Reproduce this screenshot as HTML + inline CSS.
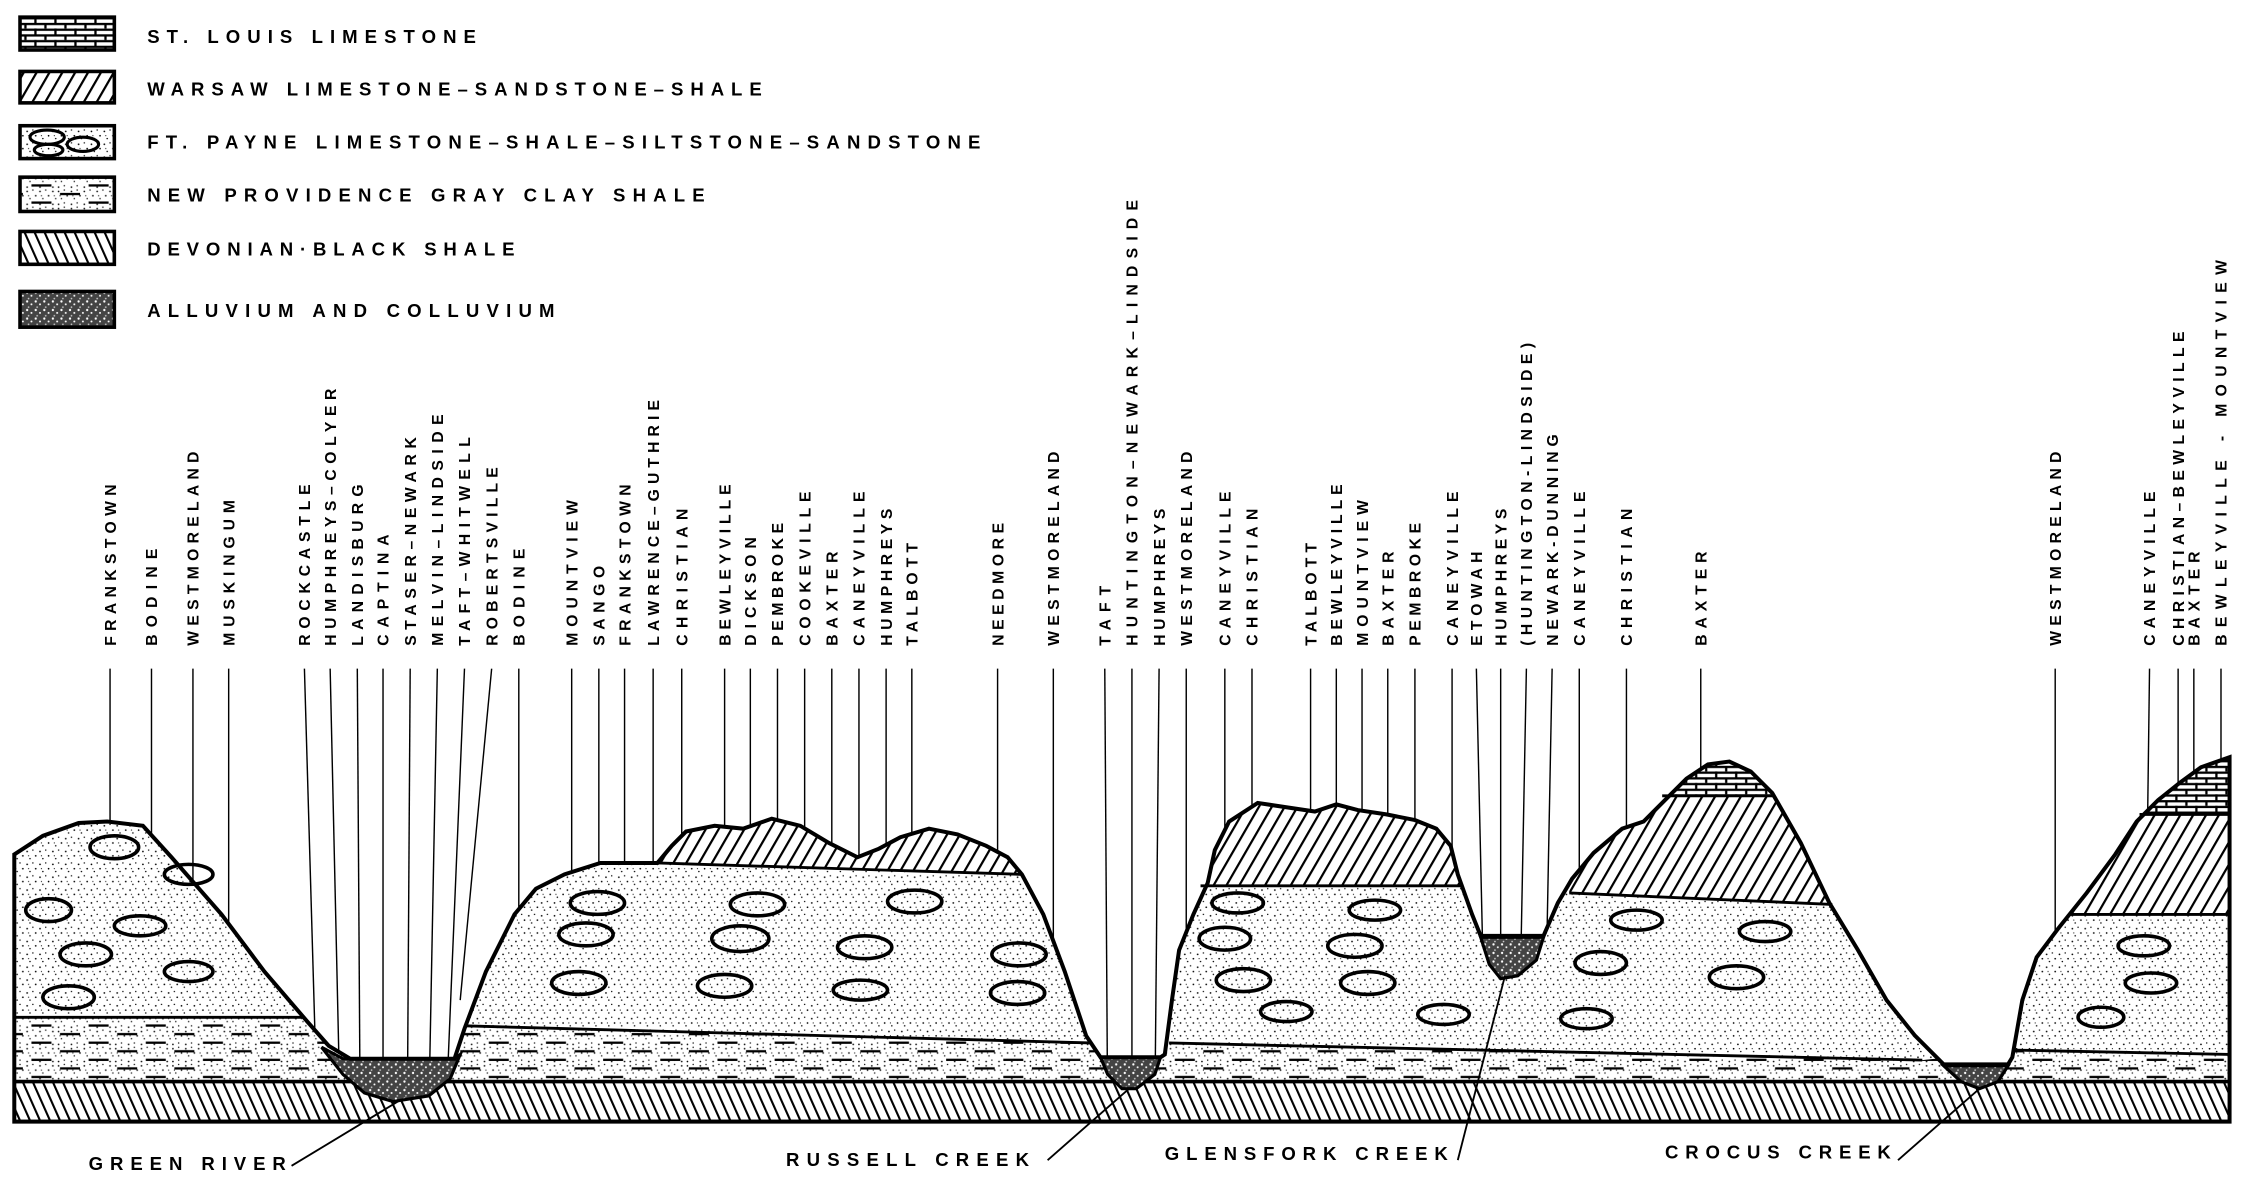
<!DOCTYPE html>
<html><head><meta charset="utf-8"><style>
html,body{margin:0;padding:0;background:#fff;}
svg{display:block;}
text{font-family:"Liberation Sans",sans-serif;font-weight:bold;fill:#000;}
</style></head><body>
<svg width="2241" height="1183" viewBox="0 0 1568 828" preserveAspectRatio="none" xmlns="http://www.w3.org/2000/svg">
<defs>
<pattern id="stip" width="9" height="9" patternUnits="userSpaceOnUse">
<rect width="9" height="9" fill="#fff"/>
<circle cx="1" cy="2" r="0.6" fill="#000"/><circle cx="5" cy="1" r="0.5" fill="#000"/>
<circle cx="7" cy="5" r="0.6" fill="#000"/><circle cx="3" cy="7" r="0.5" fill="#000"/>
<circle cx="2" cy="5" r="0.4" fill="#000"/>
</pattern>
<pattern id="shale" width="40" height="12" patternUnits="userSpaceOnUse">
<rect width="40" height="12" fill="url(#stip)"/>
<rect x="2" y="3" width="14" height="1.6" fill="#000"/><rect x="22" y="9" width="14" height="1.6" fill="#000"/>
</pattern>
<pattern id="dev" width="7" height="28" patternUnits="userSpaceOnUse" patternTransform="skewX(24)">
<rect width="7" height="28" fill="#fff"/><rect x="0" y="0" width="1.6" height="28" fill="#000"/>
</pattern>
<pattern id="war" width="9" height="60" patternUnits="userSpaceOnUse" patternTransform="skewX(-30)">
<rect width="9" height="60" fill="#fff"/><rect x="0" y="0" width="1.8" height="60" fill="#000"/>
</pattern>
<pattern id="brick" width="14" height="8" patternUnits="userSpaceOnUse">
<rect width="14" height="8" fill="#fff"/>
<rect x="0" y="0" width="14" height="1.6" fill="#000"/>
<rect x="0" y="4" width="14" height="1.6" fill="#000"/>
<rect x="3" y="0" width="1.6" height="4" fill="#000"/>
<rect x="10" y="4" width="1.6" height="4" fill="#000"/>
</pattern>
<pattern id="allu" width="6" height="6" patternUnits="userSpaceOnUse">
<rect width="6" height="6" fill="#444"/>
<circle cx="1" cy="1" r="0.8" fill="#fff"/><circle cx="4" cy="3" r="0.7" fill="#fff"/><circle cx="2" cy="5" r="0.6" fill="#ccc"/>
</pattern>
<clipPath id="terr"><path id="tp" d="M10,598 L30,585 L55,576 L75,575 L100,578 L120,600 L155,640 L185,680 L215,715 L230,732 L245,741 L318,741 L325,720 L340,680 L360,640 L375,622 L395,612 L420,604 L460,604 L470,592 L480,582 L500,578 L520,580 L540,573 L560,578 L580,590 L600,600 L615,594 L630,586 L650,580 L670,584 L690,592 L705,600 L715,612 L730,640 L745,680 L760,725 L770,740 L812,740 L815,738 L820,700 L825,665 L835,640 L845,618 L850,595 L860,575 L880,562 L900,565 L920,568 L935,563 L950,567 L970,570 L990,574 L1005,580 L1015,592 L1020,612 L1030,640 L1036,655 L1080,655 L1090,632 L1100,615 L1115,597 L1135,580 L1150,575 L1165,560 L1180,545 L1195,535 L1210,533 L1225,540 L1240,555 L1260,590 L1280,632 L1300,665 L1320,700 L1340,725 L1360,745 L1405,745 L1408,740 L1415,700 L1425,670 L1440,650 L1460,625 L1480,598 L1495,575 L1510,560 L1525,548 L1540,537 L1560,530 L1560,785 L10,785 Z"/></clipPath>
</defs>

<!-- legend -->
<g stroke="#000" stroke-width="2.5">
<rect x="14" y="12" width="66" height="23" fill="url(#brick)"/>
<rect x="14" y="50" width="66" height="22" fill="url(#war)"/>
<rect x="14" y="88" width="66" height="23" fill="url(#stip)"/>
<rect x="14" y="124" width="66" height="24" fill="url(#shale)"/>
<rect x="14" y="162" width="66" height="23" fill="url(#dev)"/>
<rect x="14" y="204" width="66" height="25" fill="url(#allu)"/>
</g>
<g fill="none" stroke="#000" stroke-width="2.2">
<ellipse cx="33" cy="96" rx="12" ry="5"/><ellipse cx="58" cy="101" rx="11" ry="5"/><ellipse cx="34" cy="105" rx="10" ry="4"/>
</g>
<g font-size="13">
<text x="103" y="30" textLength="230" lengthAdjust="spacing">ST. LOUIS LIMESTONE</text>
<text x="103" y="67" textLength="430" lengthAdjust="spacing">WARSAW LIMESTONE–SANDSTONE–SHALE</text>
<text x="103" y="104" textLength="583" lengthAdjust="spacing">FT. PAYNE LIMESTONE–SHALE–SILTSTONE–SANDSTONE</text>
<text x="103" y="141" textLength="390" lengthAdjust="spacing">NEW PROVIDENCE GRAY CLAY SHALE</text>
<text x="103" y="179" textLength="257" lengthAdjust="spacing">DEVONIAN·BLACK SHALE</text>
<text x="103" y="222" textLength="285" lengthAdjust="spacing">ALLUVIUM AND COLLUVIUM</text>
</g>

<!-- leader lines -->
<g stroke="#000" stroke-width="1">
<line x1="77" y1="468" x2="77" y2="780"/><line x1="106" y1="468" x2="106" y2="780"/>
<line x1="135" y1="468" x2="135" y2="780"/><line x1="160" y1="468" x2="160" y2="780"/>
<line x1="213" y1="468" x2="222" y2="780"/><line x1="231" y1="468" x2="238" y2="780"/>
<line x1="250" y1="468" x2="252" y2="780"/><line x1="268" y1="468" x2="268" y2="780"/>
<line x1="287" y1="468" x2="285" y2="780"/><line x1="306" y1="468" x2="300" y2="780"/>
<line x1="325" y1="468" x2="312" y2="780"/><line x1="344" y1="468" x2="322" y2="700"/>
<line x1="363" y1="468" x2="363" y2="780"/>
<line x1="400" y1="468" x2="400" y2="780"/><line x1="419" y1="468" x2="419" y2="780"/>
<line x1="437" y1="468" x2="437" y2="780"/><line x1="457" y1="468" x2="457" y2="780"/>
<line x1="477" y1="468" x2="477" y2="780"/><line x1="507" y1="468" x2="507" y2="780"/>
<line x1="525" y1="468" x2="525" y2="780"/><line x1="544" y1="468" x2="544" y2="780"/>
<line x1="563" y1="468" x2="563" y2="780"/><line x1="582" y1="468" x2="582" y2="780"/>
<line x1="601" y1="468" x2="601" y2="780"/><line x1="620" y1="468" x2="620" y2="780"/>
<line x1="638" y1="468" x2="638" y2="780"/><line x1="698" y1="468" x2="698" y2="780"/>
<line x1="737" y1="468" x2="737" y2="780"/><line x1="773" y1="468" x2="775" y2="780"/>
<line x1="792" y1="468" x2="792" y2="780"/><line x1="811" y1="468" x2="808" y2="780"/>
<line x1="830" y1="468" x2="830" y2="780"/><line x1="857" y1="468" x2="857" y2="780"/>
<line x1="876" y1="468" x2="876" y2="780"/><line x1="917" y1="468" x2="917" y2="780"/>
<line x1="935" y1="468" x2="935" y2="780"/><line x1="953" y1="468" x2="953" y2="780"/>
<line x1="971" y1="468" x2="971" y2="780"/><line x1="990" y1="468" x2="990" y2="780"/>
<line x1="1016" y1="468" x2="1016" y2="780"/><line x1="1033" y1="468" x2="1040" y2="780"/>
<line x1="1050" y1="468" x2="1050" y2="780"/><line x1="1068" y1="468" x2="1062" y2="780"/>
<line x1="1086" y1="468" x2="1080" y2="780"/><line x1="1105" y1="468" x2="1105" y2="780"/>
<line x1="1138" y1="468" x2="1138" y2="780"/><line x1="1190" y1="468" x2="1190" y2="780"/>
<line x1="1438" y1="468" x2="1438" y2="780"/><line x1="1504" y1="468" x2="1500" y2="780"/>
<line x1="1524" y1="468" x2="1524" y2="780"/><line x1="1535" y1="468" x2="1535" y2="780"/>
<line x1="1554" y1="468" x2="1554" y2="780"/>
</g>

<!-- terrain fill -->
<use href="#tp" fill="url(#stip)"/>
<g clip-path="url(#terr)">
<polygon points="0,712 212,712 325,718 763,730 818,730 1345,742 1410,735 1568,738 1568,757 0,757" fill="url(#shale)"/>
<rect x="0" y="757" width="1568" height="28" fill="url(#dev)"/>
<polygon points="460,604 715,612 715,480 460,480" fill="url(#war)"/>
<polygon points="840,620 1022,620 1022,480 840,480" fill="url(#war)"/>
<polygon points="1098,625 1282,633 1282,480 1098,480" fill="url(#war)"/>
<polygon points="1160,557 1245,557 1245,480 1160,480" fill="url(#brick)"/>
<polygon points="1445,640 1568,640 1568,480 1445,480" fill="url(#war)"/>
<polygon points="1495,570 1568,570 1568,480 1495,480" fill="url(#brick)"/>
</g>
<g stroke="#000" stroke-width="2" fill="none">
<polyline points="10,712 212,712"/><polyline points="325,718 763,730"/>
<polyline points="818,730 1345,742"/><polyline points="1410,735 1560,738"/>
<polyline points="460,604 715,612"/><polyline points="840,620 1022,620"/>
<polyline points="1098,625 1282,633"/><polyline points="1163,557 1242,557"/>
<polyline points="1447,640 1560,640"/><polyline points="1497,570 1560,570"/>
<line x1="10" y1="757" x2="1560" y2="757" stroke-width="2.5"/>
<line x1="10" y1="785" x2="1560" y2="785" stroke-width="2.5"/>
</g>
<!-- alluvium -->
<g fill="url(#allu)" stroke="#000" stroke-width="2.2">
<polygon points="225,733 240,741 318,741 322,738 315,755 300,767 275,771 255,765 240,752"/>
<polygon points="770,740 812,740 808,752 795,762 785,762 775,752"/>
<polygon points="1036,656 1080,656 1075,672 1062,683 1050,685 1042,675"/>
<polygon points="1360,746 1405,746 1398,757 1385,762 1372,757"/>
</g>
<!-- ovals -->
<g fill="none" stroke="#000" stroke-width="2.5">
<ellipse cx="80" cy="593" rx="17" ry="8"/><ellipse cx="132" cy="612" rx="17" ry="7"/>
<ellipse cx="34" cy="637" rx="16" ry="8"/><ellipse cx="98" cy="648" rx="18" ry="7"/>
<ellipse cx="60" cy="668" rx="18" ry="8"/><ellipse cx="132" cy="680" rx="17" ry="7"/>
<ellipse cx="48" cy="698" rx="18" ry="8"/>
<ellipse cx="418" cy="632" rx="19" ry="8"/><ellipse cx="530" cy="633" rx="19" ry="8"/><ellipse cx="640" cy="631" rx="19" ry="8"/>
<ellipse cx="410" cy="654" rx="19" ry="8"/><ellipse cx="518" cy="657" rx="20" ry="9"/><ellipse cx="605" cy="663" rx="19" ry="8"/><ellipse cx="713" cy="668" rx="19" ry="8"/>
<ellipse cx="405" cy="688" rx="19" ry="8"/><ellipse cx="507" cy="690" rx="19" ry="8"/><ellipse cx="602" cy="693" rx="19" ry="7"/><ellipse cx="712" cy="695" rx="19" ry="8"/>
<ellipse cx="866" cy="632" rx="18" ry="7"/><ellipse cx="962" cy="637" rx="18" ry="7"/>
<ellipse cx="857" cy="657" rx="18" ry="8"/><ellipse cx="948" cy="662" rx="19" ry="8"/>
<ellipse cx="870" cy="686" rx="19" ry="8"/><ellipse cx="957" cy="688" rx="19" ry="8"/>
<ellipse cx="900" cy="708" rx="18" ry="7"/><ellipse cx="1010" cy="710" rx="18" ry="7"/><ellipse cx="1110" cy="713" rx="18" ry="7"/>
<ellipse cx="1145" cy="644" rx="18" ry="7"/><ellipse cx="1235" cy="652" rx="18" ry="7"/>
<ellipse cx="1120" cy="674" rx="18" ry="8"/><ellipse cx="1215" cy="684" rx="19" ry="8"/>
<ellipse cx="1500" cy="662" rx="18" ry="7"/><ellipse cx="1505" cy="688" rx="18" ry="7"/><ellipse cx="1470" cy="712" rx="16" ry="7"/>
</g>
<use href="#tp" fill="none" stroke="#000" stroke-width="2.8"/>

<!-- bottom labels -->
<g stroke="#000" stroke-width="1.3">
<line x1="204" y1="816" x2="280" y2="770"/>
<line x1="733" y1="812" x2="790" y2="762"/>
<line x1="1020" y1="812" x2="1053" y2="683"/>
<line x1="1328" y1="812" x2="1385" y2="762"/>
</g>
<g font-size="13">
<text x="62" y="819" textLength="138" lengthAdjust="spacing">GREEN RIVER</text>
<text x="550" y="816" textLength="170" lengthAdjust="spacing">RUSSELL CREEK</text>
<text x="815" y="812" textLength="198" lengthAdjust="spacing">GLENSFORK CREEK</text>
<text x="1165" y="811" textLength="158" lengthAdjust="spacing">CROCUS CREEK</text>
</g>

<!-- vertical labels -->
<g font-size="11">
<text transform="translate(81,452) rotate(-90)" textLength="113" lengthAdjust="spacing">FRANKSTOWN</text>
<text transform="translate(110,452) rotate(-90)" textLength="68" lengthAdjust="spacing">BODINE</text>
<text transform="translate(139,452) rotate(-90)" textLength="136" lengthAdjust="spacing">WESTMORELAND</text>
<text transform="translate(164,452) rotate(-90)" textLength="102" lengthAdjust="spacing">MUSKINGUM</text>
<text transform="translate(217,452) rotate(-90)" textLength="113" lengthAdjust="spacing">ROCKCASTLE</text>
<text transform="translate(235,452) rotate(-90)" textLength="180" lengthAdjust="spacing">HUMPHREYS–COLYER</text>
<text transform="translate(254,452) rotate(-90)" textLength="113" lengthAdjust="spacing">LANDISBURG</text>
<text transform="translate(272,452) rotate(-90)" textLength="78" lengthAdjust="spacing">CAPTINA</text>
<text transform="translate(291,452) rotate(-90)" textLength="146" lengthAdjust="spacing">STASER–NEWARK</text>
<text transform="translate(310,452) rotate(-90)" textLength="162" lengthAdjust="spacing">MELVIN–LINDSIDE</text>
<text transform="translate(329,452) rotate(-90)" textLength="146" lengthAdjust="spacing">TAFT–WHITWELL</text>
<text transform="translate(348,452) rotate(-90)" textLength="125" lengthAdjust="spacing">ROBERTSVILLE</text>
<text transform="translate(367,452) rotate(-90)" textLength="68" lengthAdjust="spacing">BODINE</text>
<text transform="translate(404,452) rotate(-90)" textLength="102" lengthAdjust="spacing">MOUNTVIEW</text>
<text transform="translate(423,452) rotate(-90)" textLength="56" lengthAdjust="spacing">SANGO</text>
<text transform="translate(441,452) rotate(-90)" textLength="113" lengthAdjust="spacing">FRANKSTOWN</text>
<text transform="translate(461,452) rotate(-90)" textLength="172" lengthAdjust="spacing">LAWRENCE–GUTHRIE</text>
<text transform="translate(481,452) rotate(-90)" textLength="96" lengthAdjust="spacing">CHRISTIAN</text>
<text transform="translate(511,452) rotate(-90)" textLength="113" lengthAdjust="spacing">BEWLEYVILLE</text>
<text transform="translate(529,452) rotate(-90)" textLength="76" lengthAdjust="spacing">DICKSON</text>
<text transform="translate(548,452) rotate(-90)" textLength="86" lengthAdjust="spacing">PEMBROKE</text>
<text transform="translate(567,452) rotate(-90)" textLength="108" lengthAdjust="spacing">COOKEVILLE</text>
<text transform="translate(586,452) rotate(-90)" textLength="66" lengthAdjust="spacing">BAXTER</text>
<text transform="translate(605,452) rotate(-90)" textLength="108" lengthAdjust="spacing">CANEYVILLE</text>
<text transform="translate(624,452) rotate(-90)" textLength="96" lengthAdjust="spacing">HUMPHREYS</text>
<text transform="translate(642,452) rotate(-90)" textLength="72" lengthAdjust="spacing">TALBOTT</text>
<text transform="translate(702,452) rotate(-90)" textLength="86" lengthAdjust="spacing">NEEDMORE</text>
<text transform="translate(741,452) rotate(-90)" textLength="136" lengthAdjust="spacing">WESTMORELAND</text>
<text transform="translate(777,452) rotate(-90)" textLength="42" lengthAdjust="spacing">TAFT</text>
<text transform="translate(796,452) rotate(-90)" textLength="312" lengthAdjust="spacing">HUNTINGTON–NEWARK–LINDSIDE</text>
<text transform="translate(815,452) rotate(-90)" textLength="96" lengthAdjust="spacing">HUMPHREYS</text>
<text transform="translate(834,452) rotate(-90)" textLength="136" lengthAdjust="spacing">WESTMORELAND</text>
<text transform="translate(861,452) rotate(-90)" textLength="108" lengthAdjust="spacing">CANEYVILLE</text>
<text transform="translate(880,452) rotate(-90)" textLength="96" lengthAdjust="spacing">CHRISTIAN</text>
<text transform="translate(921,452) rotate(-90)" textLength="72" lengthAdjust="spacing">TALBOTT</text>
<text transform="translate(939,452) rotate(-90)" textLength="113" lengthAdjust="spacing">BEWLEYVILLE</text>
<text transform="translate(957,452) rotate(-90)" textLength="102" lengthAdjust="spacing">MOUNTVIEW</text>
<text transform="translate(975,452) rotate(-90)" textLength="66" lengthAdjust="spacing">BAXTER</text>
<text transform="translate(994,452) rotate(-90)" textLength="86" lengthAdjust="spacing">PEMBROKE</text>
<text transform="translate(1020,452) rotate(-90)" textLength="108" lengthAdjust="spacing">CANEYVILLE</text>
<text transform="translate(1037,452) rotate(-90)" textLength="66" lengthAdjust="spacing">ETOWAH</text>
<text transform="translate(1054,452) rotate(-90)" textLength="96" lengthAdjust="spacing">HUMPHREYS</text>
<text transform="translate(1072,452) rotate(-90)" textLength="212" lengthAdjust="spacing">(HUNTINGTON-LINDSIDE)</text>
<text transform="translate(1090,452) rotate(-90)" textLength="148" lengthAdjust="spacing">NEWARK-DUNNING</text>
<text transform="translate(1109,452) rotate(-90)" textLength="108" lengthAdjust="spacing">CANEYVILLE</text>
<text transform="translate(1142,452) rotate(-90)" textLength="96" lengthAdjust="spacing">CHRISTIAN</text>
<text transform="translate(1194,452) rotate(-90)" textLength="66" lengthAdjust="spacing">BAXTER</text>
<text transform="translate(1442,452) rotate(-90)" textLength="136" lengthAdjust="spacing">WESTMORELAND</text>
<text transform="translate(1508,452) rotate(-90)" textLength="108" lengthAdjust="spacing">CANEYVILLE</text>
<text transform="translate(1528,452) rotate(-90)" textLength="220" lengthAdjust="spacing">CHRISTIAN–BEWLEYVILLE</text>
<text transform="translate(1539,452) rotate(-90)" textLength="66" lengthAdjust="spacing">BAXTER</text>
<text transform="translate(1558,452) rotate(-90)" textLength="270" lengthAdjust="spacing">BEWLEYVILLE - MOUNTVIEW</text>
</g>
</svg>
</body></html>
